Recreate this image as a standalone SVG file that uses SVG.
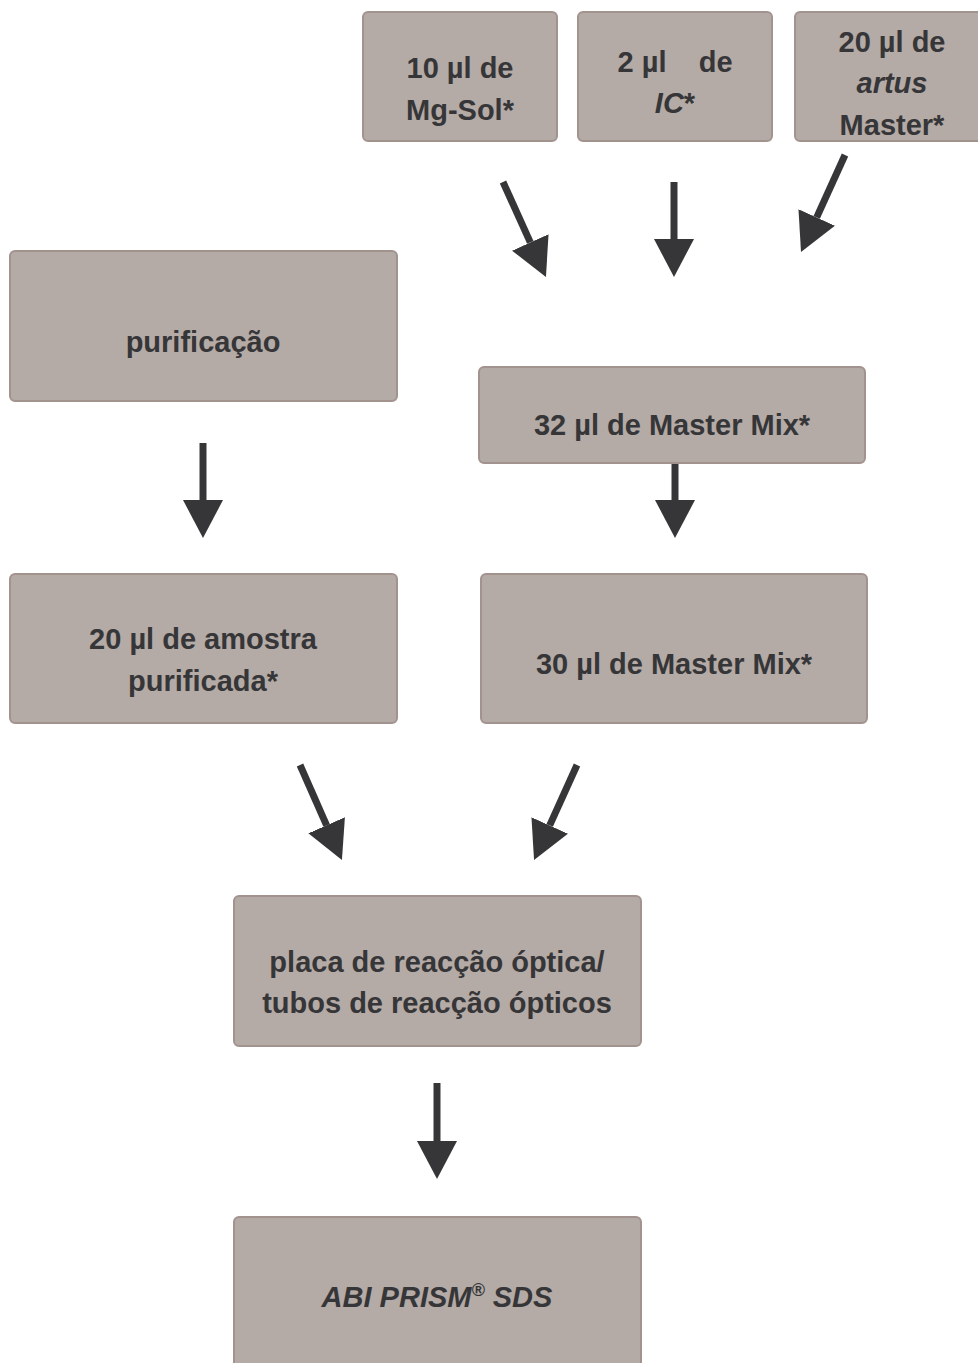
<svg xmlns="http://www.w3.org/2000/svg" width="978" height="1363" viewBox="0 0 978 1363">
<style>
.box{fill:#b4aaa6;stroke:#a3938f;stroke-width:2}
.t{font-family:"Liberation Sans",Arial,sans-serif;font-size:29px;font-weight:bold;fill:#363638;text-anchor:middle}
.i{font-style:italic}
.arr{stroke:#363638;stroke-width:7;fill:none;marker-end:url(#ah)}
</style>
<defs>
<marker id="ah" viewBox="0 0 38 40" markerWidth="38" markerHeight="40" refX="0" refY="20" orient="auto" markerUnits="userSpaceOnUse">
<path d="M0,0 L38,20 L0,40 Z" fill="#363638"/>
</marker>
</defs>
<rect width="978" height="1363" fill="#ffffff"/>
<g id="n-mgsol">
<rect class="box" x="363" y="12" width="194" height="129" rx="5"/>
<text class="t" x="460" y="78">10 µl de</text>
<text class="t" x="460" y="120">Mg-Sol*</text>
</g>
<g id="n-ic">
<rect class="box" x="578" y="12" width="194" height="129" rx="5"/>
<text class="t" x="675" y="72" style="white-space:pre">2 µl    de</text>
<text class="t" x="675" y="113"><tspan class="i">IC</tspan>*</text>
</g>
<g id="n-artus">
<rect class="box" x="795" y="12" width="194" height="129" rx="5"/>
<text class="t" x="892" y="52">20 µl de</text>
<text class="t i" x="892" y="93">artus</text>
<text class="t" x="892" y="135">Master*</text>
</g>
<g id="n-purif">
<rect class="box" x="10" y="251" width="387" height="150" rx="5"/>
<text class="t" x="203" y="352">purificação</text>
</g>
<g id="n-mm32">
<rect class="box" x="479" y="367" width="386" height="96" rx="5"/>
<text class="t" x="672" y="435">32 µl de Master Mix*</text>
</g>
<g id="n-amostra">
<rect class="box" x="10" y="574" width="387" height="149" rx="5"/>
<text class="t" x="203" y="649">20 µl de amostra</text>
<text class="t" x="203" y="691">purificada*</text>
</g>
<g id="n-mm30">
<rect class="box" x="481" y="574" width="386" height="149" rx="5"/>
<text class="t" x="674" y="674">30 µl de Master Mix*</text>
</g>
<g id="n-placa">
<rect class="box" x="234" y="896" width="407" height="150" rx="5"/>
<text class="t" x="437" y="972">placa de reacção óptica/</text>
<text class="t" x="437" y="1013">tubos de reacção ópticos</text>
</g>
<g id="n-abi">
<rect class="box" x="234" y="1217" width="407" height="152" rx="5"/>
<text class="t i" x="437" y="1307">ABI PRISM<tspan font-size="18" dy="-11">®</tspan><tspan dy="11"> SDS</tspan></text>
</g>
<g id="connectors">
<line class="arr" x1="503" y1="182" x2="530.3" y2="242.4"/>
<line class="arr" x1="674" y1="182" x2="674" y2="239"/>
<line class="arr" x1="845" y1="155" x2="816.7" y2="217.4"/>
<line class="arr" x1="203" y1="443" x2="203" y2="500"/>
<line class="arr" x1="675" y1="464" x2="675" y2="500"/>
<line class="arr" x1="300" y1="765" x2="326.6" y2="825.3"/>
<line class="arr" x1="577" y1="765" x2="549.7" y2="825.4"/>
<line class="arr" x1="437" y1="1083" x2="437" y2="1141"/>
</g>
</svg>
